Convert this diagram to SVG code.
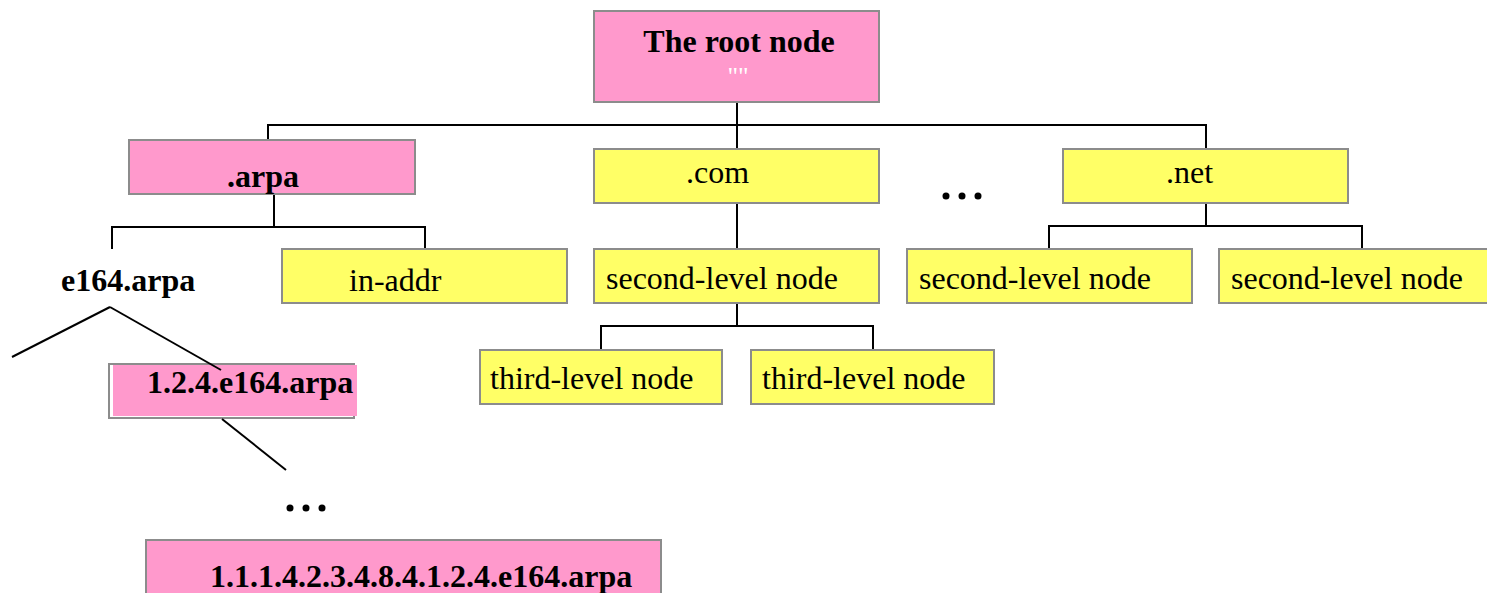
<svg xmlns="http://www.w3.org/2000/svg" width="1487" height="593" viewBox="0 0 1487 593">
<style>
.pink{fill:#FF99CC;stroke:#8C8C8C;stroke-width:2}
.yel{fill:#FFFF66;stroke:#8C8C8C;stroke-width:2}
.t{font-family:"Liberation Serif","Times New Roman",serif;font-size:32px;fill:#000}
.b{font-weight:bold}
.c{stroke:#000;stroke-width:2;fill:none}
</style>
<rect width="1487" height="593" fill="#fff"/>
<g id="root"><rect class="pink" x="594" y="11" width="285" height="91"/>
<text class="t b" x="739" y="52" text-anchor="middle">The root node</text>
<text x="738" y="85" text-anchor="middle" font-family="Liberation Serif,serif" font-size="26" fill="#fff">""</text></g>
<g id="arpa"><rect class="pink" x="129" y="140" width="286" height="54"/>
<text class="t b" x="227" y="187">.arpa</text></g>
<g id="com"><rect class="yel" x="594" y="149" width="285" height="54"/>
<text class="t" x="686" y="183">.com</text></g>
<g id="ellipsis1"><circle cx="946" cy="196" r="3.5"/><circle cx="962" cy="196" r="3.5"/><circle cx="978" cy="196" r="3.5"/></g>
<g id="net"><rect class="yel" x="1063" y="149" width="285" height="54"/>
<text class="t" x="1166" y="183">.net</text></g>
<g id="e164"><text class="t b" x="61" y="291">e164.arpa</text></g>
<g id="inaddr"><rect class="yel" x="282" y="249" width="285" height="54"/>
<text class="t" x="349" y="291">in-addr</text></g>
<g id="com-second"><rect class="yel" x="594" y="249" width="285" height="54"/>
<text class="t" x="606" y="289">second-level node</text></g>
<g id="net-second1"><rect class="yel" x="907" y="249" width="285" height="54"/>
<text class="t" x="919" y="289">second-level node</text></g>
<g id="net-second2"><rect class="yel" x="1219" y="249" width="285" height="54"/>
<text class="t" x="1231" y="289">second-level node</text></g>
<g id="third1"><rect class="yel" x="480" y="350" width="242" height="54"/>
<text class="t" x="490" y="389">third-level node</text></g>
<g id="third2"><rect class="yel" x="751" y="350" width="243" height="54"/>
<text class="t" x="762" y="389">third-level node</text></g>
<g id="n124"><rect x="109" y="364" width="245" height="54" fill="none" stroke="#8C8C8C" stroke-width="2"/>
<rect x="113" y="365" width="244" height="51" fill="#FF99CC"/>
<text class="t b" x="147" y="393">1.2.4.e164.arpa</text></g>
<g id="ellipsis2"><circle cx="290" cy="508" r="3.5"/><circle cx="306" cy="508" r="3.5"/><circle cx="322" cy="508" r="3.5"/></g>
<g id="full"><rect class="pink" x="146" y="540" width="515" height="62"/>
<text class="t b" x="210" y="587">1.1.1.4.2.3.4.8.4.1.2.4.e164.arpa</text></g>
<g id="connectors">
<line class="c" x1="737" y1="103" x2="737" y2="148"/>
<polyline class="c" points="268,139 268,125 1206,125 1206,148"/>
<polyline class="c" points="274,195 274,227"/>
<polyline class="c" points="112,249 112,227 425,227 425,248"/>
<line class="c" x1="737" y1="204" x2="737" y2="248"/>
<line class="c" x1="1206" y1="204" x2="1206" y2="226"/>
<polyline class="c" points="1049,248 1049,226 1362,226 1362,248"/>
<line class="c" x1="737" y1="304" x2="737" y2="326"/>
<polyline class="c" points="601,349 601,326 873,326 873,349"/>
<line class="c" x1="110" y1="307" x2="12" y2="357"/>
<line class="c" x1="110" y1="307" x2="221" y2="370"/>
<line class="c" x1="222" y1="419" x2="286" y2="470"/>
</g>
</svg>
